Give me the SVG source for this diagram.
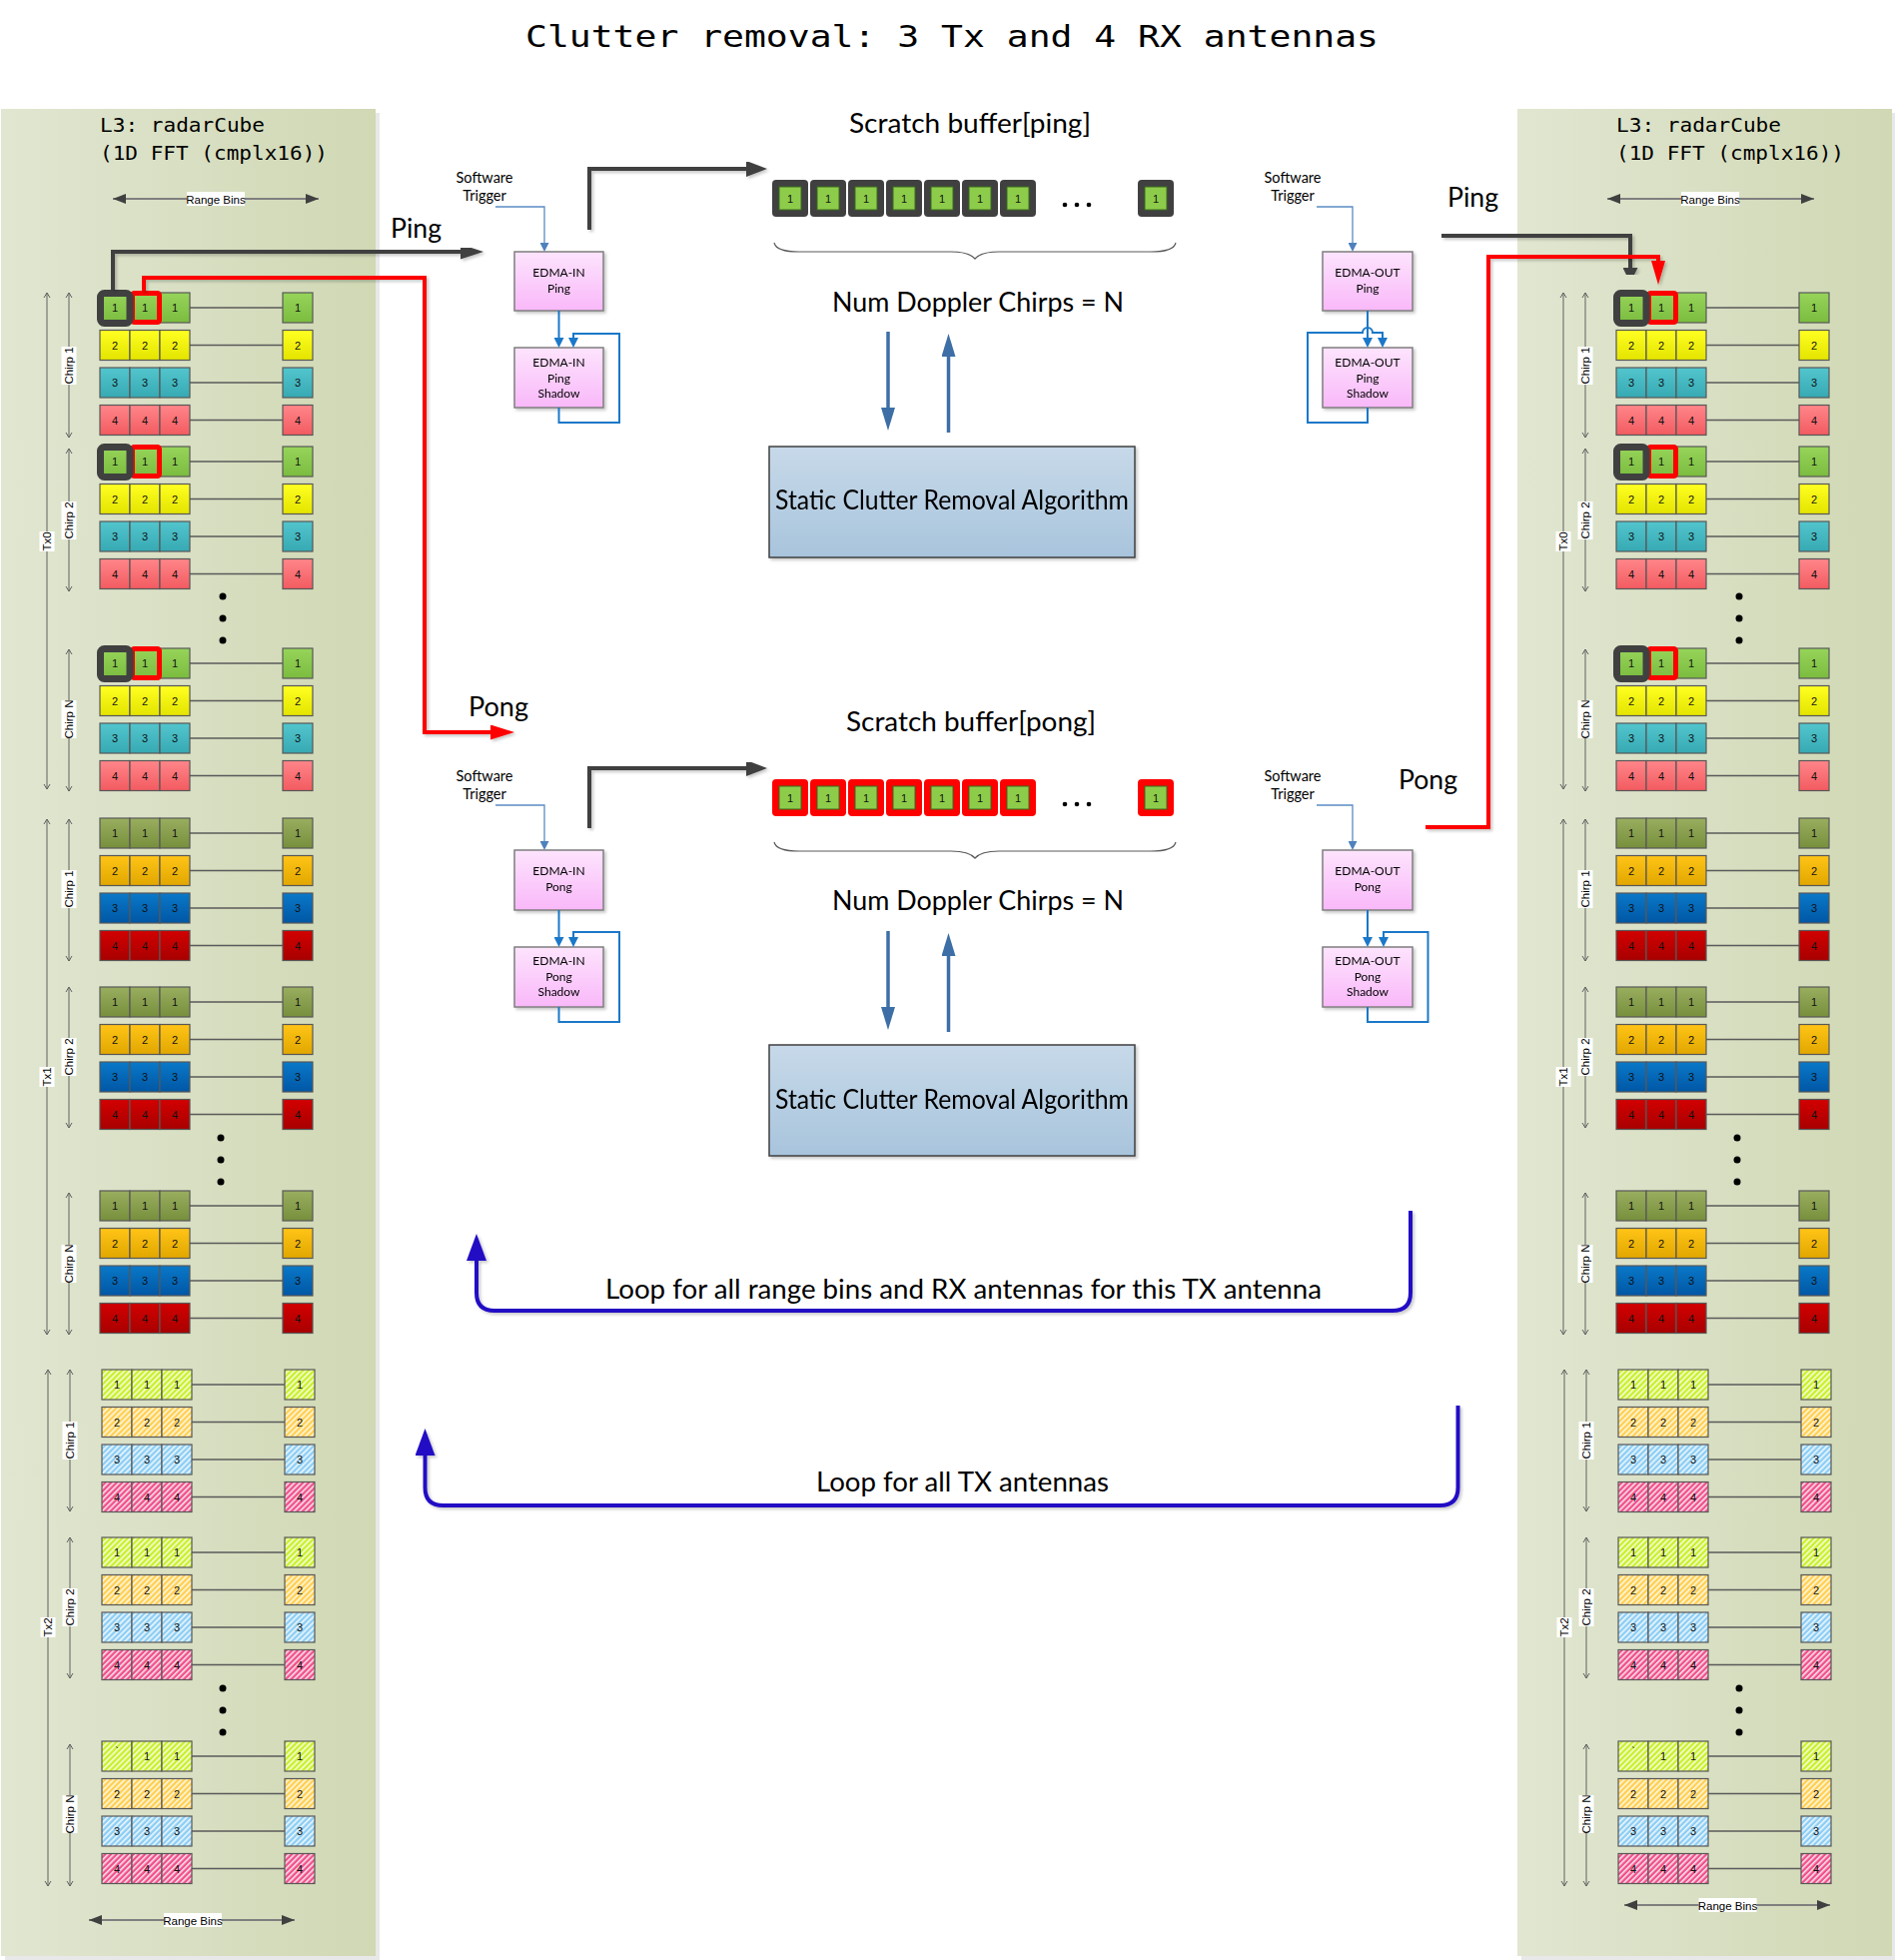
<svg xmlns="http://www.w3.org/2000/svg" width="1897" height="1962" viewBox="0 0 1897 1962">
<style>
.mono{font-family:"DejaVu Sans Mono","Liberation Mono",monospace;fill:#000}
.cal{font-family:Lato,"Open Sans",sans-serif;fill:#000}
.rw rect{stroke:#585858;stroke-width:1.2}
.rw text,.sc text{font-family:"Liberation Sans",Arial,sans-serif;font-size:11px;fill:#111;text-anchor:middle}
.ln{stroke:#5a5a5a;stroke-width:1.5;fill:none}
.dim{stroke:#606060;stroke-width:1;fill:none;marker-start:url(#mThin);marker-end:url(#mThin)}
.lbl{fill:#fff}
.dimtx{font-family:"Liberation Sans",Arial,sans-serif;font-size:11.5px;text-anchor:middle;fill:#000}
.edma{fill:url(#gEd);stroke:#7f7f7f;stroke-width:1.5}
.edt{font-family:Lato,"Open Sans",sans-serif;font-size:12px;text-anchor:middle;fill:#000}
.swt{font-family:Lato,"Open Sans",sans-serif;font-size:14.5px;text-anchor:middle;fill:#000}
.trig{stroke:#5b8cc4;stroke-width:1.3;fill:none;marker-end:url(#mTrig)}
.eb{stroke:#1b78c8;stroke-width:2;fill:none;marker-end:url(#mBlue)}
.blk{stroke:#404040;stroke-width:4;fill:none}
.red{stroke:#ff0000;stroke-width:4;fill:none}
.steel{stroke:#3d6fa6;stroke-width:3.5;fill:none;marker-end:url(#mSteel)}
.loop{stroke:#2210c4;stroke-width:4;fill:none;marker-end:url(#mLoop)}
.rb{stroke:#7f7f7f;stroke-width:2;fill:none;marker-start:url(#mRB);marker-end:url(#mRB)}
.brace{stroke:#5a5a5a;stroke-width:1.2;fill:none}
.algo{fill:url(#gAl);stroke:#404040;stroke-width:1.5}
.dot{fill:#000}
</style>
<defs>
<filter id="sh" x="-10%" y="-10%" width="130%" height="130%"><feDropShadow dx="2" dy="2" stdDeviation="1.5" flood-color="#000" flood-opacity="0.22"/></filter>
<linearGradient id="gPanel" x1="0" y1="0" x2="1" y2="0"><stop offset="0" stop-color="#e1e6d1"/><stop offset="1" stop-color="#d0d8b4"/></linearGradient>
<linearGradient id="gEd" x1="0" y1="0" x2="0" y2="1"><stop offset="0" stop-color="#fde4fd"/><stop offset="1" stop-color="#f9b8f9"/></linearGradient>
<linearGradient id="gAl" x1="0" y1="0" x2="0" y2="1"><stop offset="0" stop-color="#c7d9e9"/><stop offset="1" stop-color="#a8c4dc"/></linearGradient>
<linearGradient id="g01" x1="0" y1="0" x2="0" y2="1"><stop offset="0" stop-color="#96d45a"/><stop offset="1" stop-color="#7bbc3f"/></linearGradient>
<linearGradient id="g02" x1="0" y1="0" x2="0" y2="1"><stop offset="0" stop-color="#ffff22"/><stop offset="1" stop-color="#e4e400"/></linearGradient>
<linearGradient id="g03" x1="0" y1="0" x2="0" y2="1"><stop offset="0" stop-color="#52c5cd"/><stop offset="1" stop-color="#36a9b3"/></linearGradient>
<linearGradient id="g04" x1="0" y1="0" x2="0" y2="1"><stop offset="0" stop-color="#ff868a"/><stop offset="1" stop-color="#f25b60"/></linearGradient>
<linearGradient id="g11" x1="0" y1="0" x2="0" y2="1"><stop offset="0" stop-color="#99ae5f"/><stop offset="1" stop-color="#778f3d"/></linearGradient>
<linearGradient id="g12" x1="0" y1="0" x2="0" y2="1"><stop offset="0" stop-color="#ffc416"/><stop offset="1" stop-color="#e2a700"/></linearGradient>
<linearGradient id="g13" x1="0" y1="0" x2="0" y2="1"><stop offset="0" stop-color="#0a78c8"/><stop offset="1" stop-color="#0057a5"/></linearGradient>
<linearGradient id="g14" x1="0" y1="0" x2="0" y2="1"><stop offset="0" stop-color="#d20000"/><stop offset="1" stop-color="#a80000"/></linearGradient>
<pattern id="h1" width="4" height="4" patternUnits="userSpaceOnUse" patternTransform="rotate(45)"><rect width="4" height="4" fill="#c9f02a"/><rect width="1.6" height="4" fill="#fff" opacity="0.85"/></pattern>
<pattern id="h2" width="4" height="4" patternUnits="userSpaceOnUse" patternTransform="rotate(45)"><rect width="4" height="4" fill="#ffcf50"/><rect width="1.6" height="4" fill="#fff" opacity="0.85"/></pattern>
<pattern id="h3" width="4" height="4" patternUnits="userSpaceOnUse" patternTransform="rotate(45)"><rect width="4" height="4" fill="#8ccdf4"/><rect width="1.6" height="4" fill="#fff" opacity="0.85"/></pattern>
<pattern id="h4" width="4" height="4" patternUnits="userSpaceOnUse" patternTransform="rotate(45)"><rect width="4" height="4" fill="#f0508a"/><rect width="1.6" height="4" fill="#fff" opacity="0.85"/></pattern>

<marker id="mThin" markerUnits="userSpaceOnUse" markerWidth="8" markerHeight="8" viewBox="0 0 8 8" refX="7" refY="4" orient="auto-start-reverse"><path d="M2,1 L7,4 L2,7" fill="none" stroke="#606060" stroke-width="1"/></marker>
<marker id="mRB" markerUnits="userSpaceOnUse" markerWidth="13" markerHeight="10" viewBox="0 0 13 10" refX="13" refY="5" orient="auto-start-reverse"><path d="M0,0 L13,5 L0,10z" fill="#404040"/></marker>
<marker id="mBlkL" markerUnits="userSpaceOnUse" markerWidth="23" markerHeight="15" viewBox="0 0 23 15" refX="0" refY="7.5" orient="auto"><path d="M0,0 L23,7.5 L0,15z" fill="#404040"/></marker>
<marker id="mBlkS" markerUnits="userSpaceOnUse" markerWidth="21" markerHeight="16" viewBox="0 0 21 16" refX="0" refY="8" orient="auto"><path d="M0,0 L21,8 L0,16z" fill="#404040"/></marker>
<marker id="mBlkD" markerUnits="userSpaceOnUse" markerWidth="15" markerHeight="15" viewBox="0 0 15 15" refX="0" refY="7.5" orient="auto"><path d="M0,0 L15,7.5 L0,15z" fill="#404040"/></marker>
<marker id="mRedL" markerUnits="userSpaceOnUse" markerWidth="24" markerHeight="15" viewBox="0 0 24 15" refX="0" refY="7.5" orient="auto"><path d="M0,0 L24,7.5 L0,15z" fill="#ff0000"/></marker>
<marker id="mRedD" markerUnits="userSpaceOnUse" markerWidth="24" markerHeight="14" viewBox="0 0 24 14" refX="0" refY="7" orient="auto"><path d="M0,0 L24,7 L0,14z" fill="#ff0000"/></marker>
<marker id="mBlue" markerUnits="userSpaceOnUse" markerWidth="10" markerHeight="10" viewBox="0 0 10 10" refX="0" refY="5" orient="auto"><path d="M0,0 L10,5 L0,10z" fill="#1b78c8"/></marker>
<marker id="mTrig" markerUnits="userSpaceOnUse" markerWidth="9" markerHeight="9" viewBox="0 0 9 9" refX="0" refY="4.5" orient="auto"><path d="M0,0 L9,4.5 L0,9z" fill="#4f81bd"/></marker>
<marker id="mSteel" markerUnits="userSpaceOnUse" markerWidth="23" markerHeight="14" viewBox="0 0 23 14" refX="0" refY="7" orient="auto"><path d="M0,0 L23,7 L0,14z" fill="#3d6fa6"/></marker>
<marker id="mLoop" markerUnits="userSpaceOnUse" markerWidth="27" markerHeight="20" viewBox="0 0 27 20" refX="0" refY="10" orient="auto"><path d="M0,0 L27,10 L0,20z" fill="#2210c4"/></marker>

<!-- rows -->
<g id="r01" class="rw" fill="url(#g01)"><path class="ln" d="M90 15H183"/><rect width="30" height="30"/><rect x="30" width="30" height="30"/><rect x="60" width="30" height="30"/><rect x="183" width="30" height="30"/><text x="15" y="19">1</text><text x="45" y="19">1</text><text x="75" y="19">1</text><text x="198" y="19">1</text></g>
<g id="r02" class="rw" fill="url(#g02)"><path class="ln" d="M90 15H183"/><rect width="30" height="30"/><rect x="30" width="30" height="30"/><rect x="60" width="30" height="30"/><rect x="183" width="30" height="30"/><text x="15" y="19">2</text><text x="45" y="19">2</text><text x="75" y="19">2</text><text x="198" y="19">2</text></g>
<g id="r03" class="rw" fill="url(#g03)"><path class="ln" d="M90 15H183"/><rect width="30" height="30"/><rect x="30" width="30" height="30"/><rect x="60" width="30" height="30"/><rect x="183" width="30" height="30"/><text x="15" y="19">3</text><text x="45" y="19">3</text><text x="75" y="19">3</text><text x="198" y="19">3</text></g>
<g id="r04" class="rw" fill="url(#g04)"><path class="ln" d="M90 15H183"/><rect width="30" height="30"/><rect x="30" width="30" height="30"/><rect x="60" width="30" height="30"/><rect x="183" width="30" height="30"/><text x="15" y="19">4</text><text x="45" y="19">4</text><text x="75" y="19">4</text><text x="198" y="19">4</text></g>
<g id="r11" class="rw" fill="url(#g11)"><path class="ln" d="M90 15H183"/><rect width="30" height="30"/><rect x="30" width="30" height="30"/><rect x="60" width="30" height="30"/><rect x="183" width="30" height="30"/><text x="15" y="19">1</text><text x="45" y="19">1</text><text x="75" y="19">1</text><text x="198" y="19">1</text></g>
<g id="r12" class="rw" fill="url(#g12)"><path class="ln" d="M90 15H183"/><rect width="30" height="30"/><rect x="30" width="30" height="30"/><rect x="60" width="30" height="30"/><rect x="183" width="30" height="30"/><text x="15" y="19">2</text><text x="45" y="19">2</text><text x="75" y="19">2</text><text x="198" y="19">2</text></g>
<g id="r13" class="rw" fill="url(#g13)"><path class="ln" d="M90 15H183"/><rect width="30" height="30"/><rect x="30" width="30" height="30"/><rect x="60" width="30" height="30"/><rect x="183" width="30" height="30"/><text x="15" y="19">3</text><text x="45" y="19">3</text><text x="75" y="19">3</text><text x="198" y="19">3</text></g>
<g id="r14" class="rw" fill="url(#g14)"><path class="ln" d="M90 15H183"/><rect width="30" height="30"/><rect x="30" width="30" height="30"/><rect x="60" width="30" height="30"/><rect x="183" width="30" height="30"/><text x="15" y="19">4</text><text x="45" y="19">4</text><text x="75" y="19">4</text><text x="198" y="19">4</text></g>
<g id="r21" class="rw" fill="url(#h1)"><path class="ln" d="M90 15H183"/><rect width="30" height="30"/><rect x="30" width="30" height="30"/><rect x="60" width="30" height="30"/><rect x="183" width="30" height="30"/><text x="15" y="19">1</text><text x="45" y="19">1</text><text x="75" y="19">1</text><text x="198" y="19">1</text></g>
<g id="r21b" class="rw" fill="url(#h1)"><path class="ln" d="M90 15H183"/><rect width="30" height="30"/><rect x="30" width="30" height="30"/><rect x="60" width="30" height="30"/><rect x="183" width="30" height="30"/><text x="15" y="14">`</text><text x="45" y="19">1</text><text x="75" y="19">1</text><text x="198" y="19">1</text></g>
<g id="r22" class="rw" fill="url(#h2)"><path class="ln" d="M90 15H183"/><rect width="30" height="30"/><rect x="30" width="30" height="30"/><rect x="60" width="30" height="30"/><rect x="183" width="30" height="30"/><text x="15" y="19">2</text><text x="45" y="19">2</text><text x="75" y="19">2</text><text x="198" y="19">2</text></g>
<g id="r23" class="rw" fill="url(#h3)"><path class="ln" d="M90 15H183"/><rect width="30" height="30"/><rect x="30" width="30" height="30"/><rect x="60" width="30" height="30"/><rect x="183" width="30" height="30"/><text x="15" y="19">3</text><text x="45" y="19">3</text><text x="75" y="19">3</text><text x="198" y="19">3</text></g>
<g id="r24" class="rw" fill="url(#h4)"><path class="ln" d="M90 15H183"/><rect width="30" height="30"/><rect x="30" width="30" height="30"/><rect x="60" width="30" height="30"/><rect x="183" width="30" height="30"/><text x="15" y="19">4</text><text x="45" y="19">4</text><text x="75" y="19">4</text><text x="198" y="19">4</text></g>

<!-- chirp blocks -->
<g id="b0"><use href="#r01"/><use href="#r02" y="37.5"/><use href="#r03" y="75"/><use href="#r04" y="112.5"/>
<rect x="32.5" y="0.5" width="27" height="29" rx="2" fill="none" stroke="#ff0000" stroke-width="5"/>
<rect x="0.5" y="0.5" width="29.5" height="30" rx="4" fill="none" stroke="#404040" stroke-width="7"/></g>
<g id="b1"><use href="#r11"/><use href="#r12" y="37.5"/><use href="#r13" y="75"/><use href="#r14" y="112.5"/></g>
<g id="b2"><use href="#r21"/><use href="#r22" y="37.5"/><use href="#r23" y="75"/><use href="#r24" y="112.5"/></g>
<g id="b2n"><use href="#r21b"/><use href="#r22" y="37.5"/><use href="#r23" y="75"/><use href="#r24" y="112.5"/></g>

<!-- scratch cells -->
<g id="cK" class="sc"><rect width="36" height="37" rx="4" fill="#404040"/><rect x="7" y="7" width="22" height="23" fill="#8dcc4a" stroke="#3b6b1e" stroke-width="1"/><text x="18" y="22.5">1</text></g>
<g id="cR" class="sc"><rect width="36" height="37" rx="4" fill="#ff0000"/><rect x="7" y="7" width="22" height="23" fill="#8dcc4a" stroke="#3b6b1e" stroke-width="1"/><text x="18" y="22.5">1</text></g>
</defs>

<rect width="1897" height="1962" fill="#fff"/>

<text id="title" class="mono" x="526" y="47" font-size="30" textLength="854" lengthAdjust="spacingAndGlyphs">Clutter removal: 3 Tx and 4 RX antennas</text>

<!-- left radar cube panel -->
<g id="radarCube-in">
<rect x="5" y="113" width="375" height="1849" fill="#e8e8e8"/>
<rect x="1" y="109" width="375" height="1849" fill="url(#gPanel)"/>
<text class="mono" x="100" y="132" font-size="19" textLength="165" lengthAdjust="spacingAndGlyphs">L3: radarCube</text>
<text class="mono" x="100" y="160" font-size="19" textLength="228" lengthAdjust="spacingAndGlyphs">(1D FFT (cmplx16))</text>
<path class="dim" d="M47 293V790"/>
<path class="dim" d="M47 820V1336"/>
<path class="dim" d="M48 1371V1888"/>
<path class="dim" d="M69 293V438"/>
<path class="dim" d="M69 449V592"/>
<path class="dim" d="M69 650V792"/>
<path class="dim" d="M69 820V962"/>
<path class="dim" d="M69 988V1129"/>
<path class="dim" d="M69 1194V1336"/>
<path class="dim" d="M70 1371V1513"/>
<path class="dim" d="M70 1539V1680"/>
<path class="dim" d="M70 1746V1888"/>
<g transform="translate(47 542) rotate(-90)"><rect class="lbl" x="-10" y="-7.5" width="20" height="15"/><text class="dimtx" y="4">Tx0</text></g>
<g transform="translate(47 1078) rotate(-90)"><rect class="lbl" x="-10" y="-7.5" width="20" height="15"/><text class="dimtx" y="4">Tx1</text></g>
<g transform="translate(48 1629) rotate(-90)"><rect class="lbl" x="-10" y="-7.5" width="20" height="15"/><text class="dimtx" y="4">Tx2</text></g>
<g transform="translate(69 366) rotate(-90)"><rect class="lbl" x="-19" y="-7.5" width="38" height="15"/><text class="dimtx" y="4">Chirp 1</text></g>
<g transform="translate(69 521) rotate(-90)"><rect class="lbl" x="-19" y="-7.5" width="38" height="15"/><text class="dimtx" y="4">Chirp 2</text></g>
<g transform="translate(69 720) rotate(-90)"><rect class="lbl" x="-19" y="-7.5" width="38" height="15"/><text class="dimtx" y="4">Chirp N</text></g>
<g transform="translate(69 890) rotate(-90)"><rect class="lbl" x="-19" y="-7.5" width="38" height="15"/><text class="dimtx" y="4">Chirp 1</text></g>
<g transform="translate(69 1058) rotate(-90)"><rect class="lbl" x="-19" y="-7.5" width="38" height="15"/><text class="dimtx" y="4">Chirp 2</text></g>
<g transform="translate(69 1265) rotate(-90)"><rect class="lbl" x="-19" y="-7.5" width="38" height="15"/><text class="dimtx" y="4">Chirp N</text></g>
<g transform="translate(70 1442) rotate(-90)"><rect class="lbl" x="-19" y="-7.5" width="38" height="15"/><text class="dimtx" y="4">Chirp 1</text></g>
<g transform="translate(70 1609) rotate(-90)"><rect class="lbl" x="-19" y="-7.5" width="38" height="15"/><text class="dimtx" y="4">Chirp 2</text></g>
<g transform="translate(70 1816) rotate(-90)"><rect class="lbl" x="-19" y="-7.5" width="38" height="15"/><text class="dimtx" y="4">Chirp N</text></g>
<use href="#b0" x="100" y="293"/>
<use href="#b0" x="100" y="447"/>
<use href="#b0" x="100" y="649"/>
<use href="#b1" x="100" y="819"/>
<use href="#b1" x="100" y="988"/>
<use href="#b1" x="100" y="1192"/>
<use href="#b2" x="102" y="1371"/>
<use href="#b2" x="102" y="1539"/>
<use href="#b2n" x="102" y="1743"/>
<circle class="dot" cx="223" cy="597" r="3.5"/><circle class="dot" cx="223" cy="619" r="3.5"/><circle class="dot" cx="223" cy="641" r="3.5"/>
<circle class="dot" cx="221" cy="1139" r="3.5"/><circle class="dot" cx="221" cy="1161" r="3.5"/><circle class="dot" cx="221" cy="1183" r="3.5"/>
<circle class="dot" cx="223" cy="1690" r="3.5"/><circle class="dot" cx="223" cy="1712" r="3.5"/><circle class="dot" cx="223" cy="1734" r="3.5"/>
</g>
<g id="rangebins-in">
<path class="rb" d="M113 199H319"/><rect class="lbl" x="187" y="192" width="58" height="14"/><text class="dimtx" x="216" y="203.5">Range Bins</text>
<path class="rb" d="M89 1922H295"/><rect class="lbl" x="164" y="1915" width="58" height="14"/><text class="dimtx" x="193" y="1926.5">Range Bins</text>
</g>

<!-- right radar cube panel -->
<g id="radarCube-out"><use href="#radarCube-in" x="1518"/></g>
<g id="rangebins-out">
<path class="rb" d="M1609 199H1816"/><rect class="lbl" x="1683" y="192" width="58" height="14"/><text class="dimtx" x="1712" y="203.5">Range Bins</text>
<path class="rb" d="M1626 1907H1832"/><rect class="lbl" x="1700.5" y="1900" width="58" height="14"/><text class="dimtx" x="1729.5" y="1911.5">Range Bins</text>
</g>

<!-- EDMA nodes -->
<g id="edma-in-ping" filter="url(#sh)"><rect class="edma" x="515" y="252" width="89" height="59"/><text class="edt" x="559.5" y="277">EDMA-IN</text><text class="edt" x="559.5" y="293">Ping</text></g>
<g id="edma-in-ping-shadow" filter="url(#sh)"><rect class="edma" x="515" y="348" width="89" height="60"/><text class="edt" x="559.5" y="367">EDMA-IN</text><text class="edt" x="559.5" y="383">Ping</text><text class="edt" x="559.5" y="398">Shadow</text></g>
<g id="edma-in-pong" filter="url(#sh)"><rect class="edma" x="515" y="851" width="89" height="60"/><text class="edt" x="559.5" y="876">EDMA-IN</text><text class="edt" x="559.5" y="892">Pong</text></g>
<g id="edma-in-pong-shadow" filter="url(#sh)"><rect class="edma" x="515" y="948" width="89" height="60"/><text class="edt" x="559.5" y="966">EDMA-IN</text><text class="edt" x="559.5" y="982">Pong</text><text class="edt" x="559.5" y="997">Shadow</text></g>
<g id="edma-out-ping" filter="url(#sh)"><rect class="edma" x="1324" y="252" width="90" height="59"/><text class="edt" x="1369" y="277">EDMA-OUT</text><text class="edt" x="1369" y="293">Ping</text></g>
<g id="edma-out-ping-shadow" filter="url(#sh)"><rect class="edma" x="1324" y="348" width="90" height="60"/><text class="edt" x="1369" y="367">EDMA-OUT</text><text class="edt" x="1369" y="383">Ping</text><text class="edt" x="1369" y="398">Shadow</text></g>
<g id="edma-out-pong" filter="url(#sh)"><rect class="edma" x="1324" y="851" width="90" height="60"/><text class="edt" x="1369" y="876">EDMA-OUT</text><text class="edt" x="1369" y="892">Pong</text></g>
<g id="edma-out-pong-shadow" filter="url(#sh)"><rect class="edma" x="1324" y="948" width="90" height="60"/><text class="edt" x="1369" y="966">EDMA-OUT</text><text class="edt" x="1369" y="982">Pong</text><text class="edt" x="1369" y="997">Shadow</text></g>

<!-- software triggers -->
<g id="trig-in-ping"><text class="swt" x="485" y="183">Software</text><text class="swt" x="485" y="201">Trigger</text></g>
<g id="trig-in-pong"><text class="swt" x="485" y="782">Software</text><text class="swt" x="485" y="800">Trigger</text></g>
<g id="trig-out-ping"><text class="swt" x="1294" y="183">Software</text><text class="swt" x="1294" y="201">Trigger</text></g>
<g id="trig-out-pong"><text class="swt" x="1294" y="782">Software</text><text class="swt" x="1294" y="800">Trigger</text></g>

<!-- scratch buffers -->
<g id="scratch-ping">
<text class="cal" x="971" y="133" font-size="26" text-anchor="middle" textLength="242" lengthAdjust="spacingAndGlyphs">Scratch buffer[ping]</text>
<use href="#cK" x="773" y="180"/><use href="#cK" x="811" y="180"/><use href="#cK" x="849" y="180"/><use href="#cK" x="887" y="180"/><use href="#cK" x="925" y="180"/><use href="#cK" x="963" y="180"/><use href="#cK" x="1001" y="180"/><use href="#cK" x="1139" y="180"/>
<circle class="dot" cx="1066" cy="205" r="2.3"/><circle class="dot" cx="1078" cy="205" r="2.3"/><circle class="dot" cx="1090" cy="205" r="2.3"/>
<path class="brace" d="M775,243 Q777,252 800,252 H952 Q970,252 976,259 Q982,252 1000,252 H1152 Q1175,252 1177,243"/>
<text class="cal" x="979" y="312" font-size="26" text-anchor="middle" textLength="292" lengthAdjust="spacingAndGlyphs">Num Doppler Chirps = N</text>
</g>
<g id="scratch-pong">
<text class="cal" x="972" y="732" font-size="26" text-anchor="middle" textLength="250" lengthAdjust="spacingAndGlyphs">Scratch buffer[pong]</text>
<use href="#cR" x="773" y="780"/><use href="#cR" x="811" y="780"/><use href="#cR" x="849" y="780"/><use href="#cR" x="887" y="780"/><use href="#cR" x="925" y="780"/><use href="#cR" x="963" y="780"/><use href="#cR" x="1001" y="780"/><use href="#cR" x="1139" y="780"/>
<circle class="dot" cx="1066" cy="805" r="2.3"/><circle class="dot" cx="1078" cy="805" r="2.3"/><circle class="dot" cx="1090" cy="805" r="2.3"/>
<path class="brace" d="M775,843 Q777,852 800,852 H952 Q970,852 976,859 Q982,852 1000,852 H1152 Q1175,852 1177,843"/>
<text class="cal" x="979" y="911" font-size="26" text-anchor="middle" textLength="292" lengthAdjust="spacingAndGlyphs">Num Doppler Chirps = N</text>
</g>

<!-- algorithm nodes -->
<g id="algo-ping" filter="url(#sh)"><rect class="algo" x="770" y="447" width="366" height="111"/><text class="cal" x="953" y="510" font-size="26" text-anchor="middle" textLength="354" lengthAdjust="spacingAndGlyphs">Static Clutter Removal Algorithm</text></g>
<g id="algo-pong" filter="url(#sh)"><rect class="algo" x="770" y="1046" width="366" height="111"/><text class="cal" x="953" y="1110" font-size="26" text-anchor="middle" textLength="354" lengthAdjust="spacingAndGlyphs">Static Clutter Removal Algorithm</text></g>

<!-- connectors -->
<g id="connectors">
<path class="trig" d="M496 207H545V243"/>
<path class="trig" d="M496 806H545V842"/>
<path class="trig" d="M1318 207H1354V243"/>
<path class="trig" d="M1318 806H1354V842"/>
<path class="eb" d="M559.5 311V338"/>
<path class="eb" d="M559.5 408V423H620V334H574V338"/>
<path class="eb" d="M559.5 911V938"/>
<path class="eb" d="M559.5 1008V1023H620V933H574V938"/>
<path class="eb" d="M1369 311V338"/>
<path class="eb" d="M1369 408V423H1309V333H1364A5 5 0 0 1 1374 333H1384V338"/>
<path class="eb" d="M1369 911V938"/>
<path class="eb" d="M1369 1008V1023H1429.5V933H1385V938"/>
<path class="blk" d="M113 290V252H461" marker-end="url(#mBlkL)" filter="url(#sh)"/>
<path class="red" d="M144 291V278H425V733H491" marker-end="url(#mRedL)" filter="url(#sh)"/>
<path class="blk" d="M590 230V169H747" marker-end="url(#mBlkS)" filter="url(#sh)"/>
<path class="blk" d="M590 829V769H747" marker-end="url(#mBlkS)" filter="url(#sh)"/>
<path class="blk" d="M1443 236H1632V268" marker-end="url(#mBlkD)" filter="url(#sh)"/>
<path class="red" d="M1427 828H1490V257H1660V261" marker-end="url(#mRedD)" filter="url(#sh)"/>
<path class="steel" d="M889 332V408"/>
<path class="steel" d="M949.5 433V357"/>
<path class="steel" d="M889 932V1008"/>
<path class="steel" d="M949.5 1033V957"/>
<path class="loop" d="M1412 1212V1294Q1412 1312 1394 1312H495Q477 1312 477 1294V1262" filter="url(#sh)"/>
<path class="loop" d="M1459.5 1407V1489Q1459.5 1507 1441.5 1507H443.5Q425.5 1507 425.5 1489V1457" filter="url(#sh)"/>
</g>

<!-- connector labels -->
<g id="labels">
<text class="cal" x="391" y="238" font-size="26" textLength="51" lengthAdjust="spacingAndGlyphs">Ping</text>
<text class="cal" x="469" y="717" font-size="26" textLength="60" lengthAdjust="spacingAndGlyphs">Pong</text>
<text class="cal" x="1449" y="207" font-size="26" textLength="51" lengthAdjust="spacingAndGlyphs">Ping</text>
<text class="cal" x="1400" y="790" font-size="26" textLength="59" lengthAdjust="spacingAndGlyphs">Pong</text>
<text class="cal" x="606" y="1300" font-size="26" textLength="717" lengthAdjust="spacingAndGlyphs">Loop for all range bins and RX antennas for this TX antenna</text>
<text class="cal" x="817" y="1493" font-size="26" textLength="293" lengthAdjust="spacingAndGlyphs">Loop for all TX antennas</text>
</g>
</svg>
